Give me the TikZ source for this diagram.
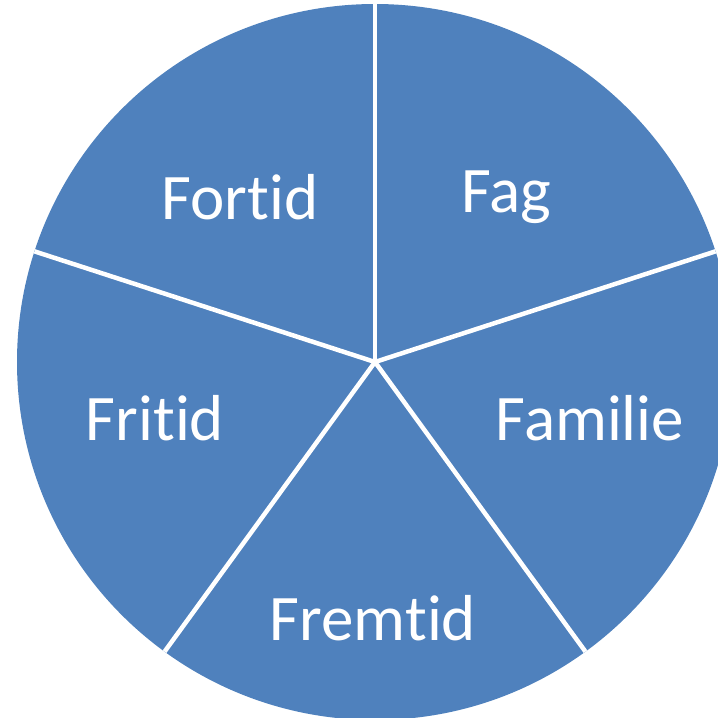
\documentclass[tikz,border=0pt]{standalone}
\usepackage{fontspec}
\setmainfont[Ligatures=NoCommon]{Carlito}
\usetikzlibrary{calc}
\definecolor{slice}{HTML}{4F81BD}
\tikzset{
  lbl/.style={text=white,font=\fontsize{65}{78}\selectfont,inner sep=0pt},
  sep/.style={draw=white,line width=4.5pt}
}
\begin{document}
\begin{tikzpicture}[x=1pt,y=-1pt]
\useasboundingbox (0,0) rectangle (718,718);
\clip (0,0) rectangle (718,718);
\coordinate (c) at (375,362);
\fill[slice] (c) circle[radius=358];
\foreach \a/\n in {90/p1,162/p2,234/p3,306/p4,18/p5}{
  \coordinate (\n) at ($(c)+({358*cos(\a)},{-358*sin(\a)})$);
}
\foreach \n in {p1,p2,p3,p4,p5}{\draw[sep] (c) -- (\n);}
\node[lbl] (fortid) at (240,197) {Fortid};
\node[lbl] (fag) at (506,197) {Fag};
\node[lbl] (familie) at (590,418) {Familie};
\node[lbl] (fremtid) at (373,618) {Fremtid};
\node[lbl] (fritid) at (155,418) {Fritid};
\end{tikzpicture}
\end{document}
